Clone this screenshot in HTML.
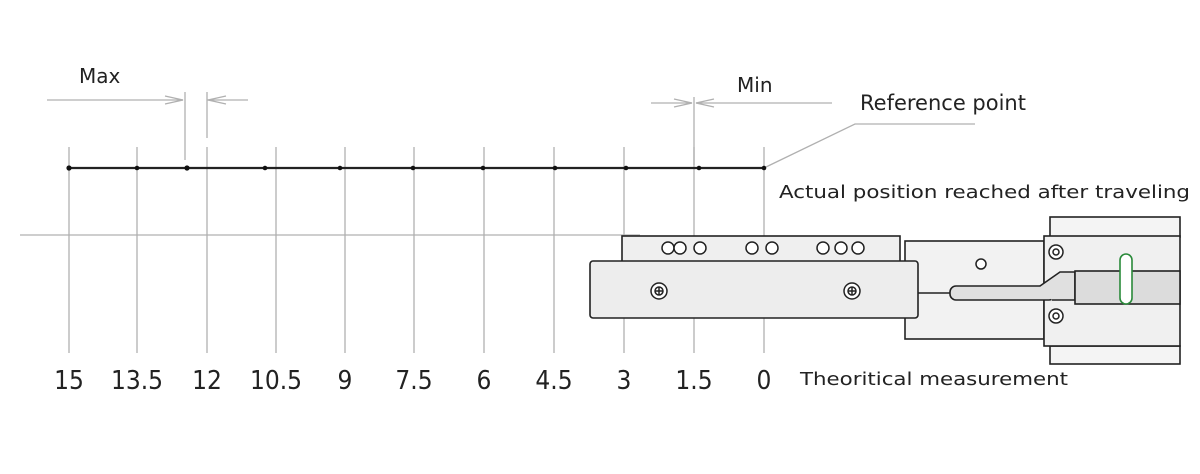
<!DOCTYPE html>
<html><head><meta charset="utf-8"><style>html,body{margin:0;padding:0;background:#fff;width:1200px;height:474px;overflow:hidden}</style></head>
<body>
<svg width="1200" height="474" viewBox="0 0 1200 474" xmlns="http://www.w3.org/2000/svg">
<g stroke="#b0b0b0" stroke-width="1.3" fill="none">
  <line x1="69" y1="147" x2="69" y2="353"/>
  <line x1="137" y1="147" x2="137" y2="353"/>
  <line x1="207" y1="147" x2="207" y2="353"/>
  <line x1="276" y1="147" x2="276" y2="353"/>
  <line x1="345" y1="147" x2="345" y2="353"/>
  <line x1="414" y1="147" x2="414" y2="353"/>
  <line x1="484" y1="147" x2="484" y2="353"/>
  <line x1="554" y1="147" x2="554" y2="353"/>
  <line x1="624" y1="147" x2="624" y2="353"/>
  <line x1="694" y1="147" x2="694" y2="353"/>
  <line x1="764" y1="147" x2="764" y2="353"/>
  <line x1="20" y1="235" x2="640" y2="235"/>
  <line x1="47" y1="100" x2="183" y2="100"/>
  <polyline points="165,96 183,100 165,104"/>
  <line x1="185" y1="92" x2="185" y2="160"/>
  <line x1="207" y1="92" x2="207" y2="138"/>
  <line x1="207" y1="100" x2="248" y2="100"/>
  <polyline points="226,96 208,100 226,104"/>
  <line x1="651" y1="103" x2="692" y2="103"/>
  <polyline points="674,99 692,103 674,107"/>
  <line x1="694" y1="97" x2="694" y2="165"/>
  <line x1="696" y1="103" x2="832" y2="103"/>
  <polyline points="714,99 696,103 714,107"/>
  <polyline points="766,167 855,124 975,124"/>
</g>
<line x1="69" y1="168" x2="764" y2="168" stroke="#222" stroke-width="2.2"/>
<g fill="#111">
  <circle cx="69" cy="168" r="2.6"/><circle cx="137" cy="168" r="2.3"/><circle cx="187" cy="168" r="2.6"/>
  <circle cx="265" cy="168" r="2.3"/><circle cx="340" cy="168" r="2.3"/><circle cx="413" cy="168" r="2.3"/>
  <circle cx="483" cy="168" r="2.3"/><circle cx="555" cy="168" r="2.3"/><circle cx="626" cy="168" r="2.3"/>
  <circle cx="699" cy="168" r="2.3"/><circle cx="764" cy="168" r="2.3"/>
</g>
<g font-family="DejaVu Sans, Liberation Sans, sans-serif" fill="#222">
  <text x="79" y="83" font-size="20">Max</text>
  <text x="737" y="92" font-size="20">Min</text>
  <text x="860" y="110" font-size="21">Reference point</text>
  <text x="779" y="198" font-size="18" textLength="411" lengthAdjust="spacingAndGlyphs">Actual position reached after traveling</text>
  <text x="800" y="385" font-size="18" textLength="268" lengthAdjust="spacingAndGlyphs">Theoritical measurement</text>
</g>
<g font-family="DejaVu Sans Condensed, Liberation Sans Narrow, Liberation Sans, sans-serif" font-size="26" fill="#222" text-anchor="middle">
  <g transform="translate(0,389) scale(1,1)">
  <text x="69" y="0" transform="scale(1,1)">15</text><text x="137" y="0">13.5</text><text x="207" y="0">12</text>
  <text x="276" y="0">10.5</text><text x="345" y="0">9</text><text x="414" y="0">7.5</text>
  <text x="484" y="0">6</text><text x="554" y="0">4.5</text><text x="624" y="0">3</text>
  <text x="694" y="0">1.5</text><text x="764" y="0">0</text>
  </g>
</g>
<g stroke="#222" stroke-width="1.6" fill="#efefef">
  <rect x="622" y="236" width="278" height="26"/>
  <rect x="905" y="241" width="139" height="98" fill="#f2f2f2"/>
  <rect x="1050" y="217" width="130" height="20" fill="#f4f4f4"/>
  <rect x="1050" y="346" width="130" height="18" fill="#f4f4f4"/>
  <rect x="1044" y="236" width="136" height="110" fill="#f0f0f0"/>
  <rect x="590" y="261" width="328" height="57" rx="3" fill="#ededed"/>
  <rect x="950" y="286" width="105" height="14" rx="6" fill="#e0e0e0"/>
  <line x1="918" y1="293" x2="950" y2="293"/>
  <path d="M1040,286 L1060,272 L1075,272 L1075,300 L1060,300 L1052,300" fill="#e0e0e0"/>
  <rect x="1075" y="271" width="105" height="33" fill="#dcdcdc"/>
  <rect x="1120" y="254" width="12" height="50" rx="6" fill="#fff" stroke="#2a8a3a"/>
</g>
<g stroke="#222" stroke-width="1.5" fill="#fff">
  <circle cx="668" cy="248" r="6"/><circle cx="680" cy="248" r="6"/><circle cx="700" cy="248" r="6"/>
  <circle cx="752" cy="248" r="6"/><circle cx="772" cy="248" r="6"/>
  <circle cx="823" cy="248" r="6"/><circle cx="841" cy="248" r="6"/><circle cx="858" cy="248" r="6"/>
  <circle cx="659" cy="291" r="8"/><circle cx="659" cy="291" r="4"/><circle cx="852" cy="291" r="8"/><circle cx="852" cy="291" r="4"/>
  <circle cx="981" cy="264" r="5"/>
  <circle cx="1056" cy="252" r="7"/><circle cx="1056" cy="252" r="3"/><circle cx="1056" cy="316" r="7"/><circle cx="1056" cy="316" r="3"/>
  <path d="M655,291 h8 M659,287 v8 M848,291 h8 M852,287 v8"/>
</g>
</svg>
</body></html>
